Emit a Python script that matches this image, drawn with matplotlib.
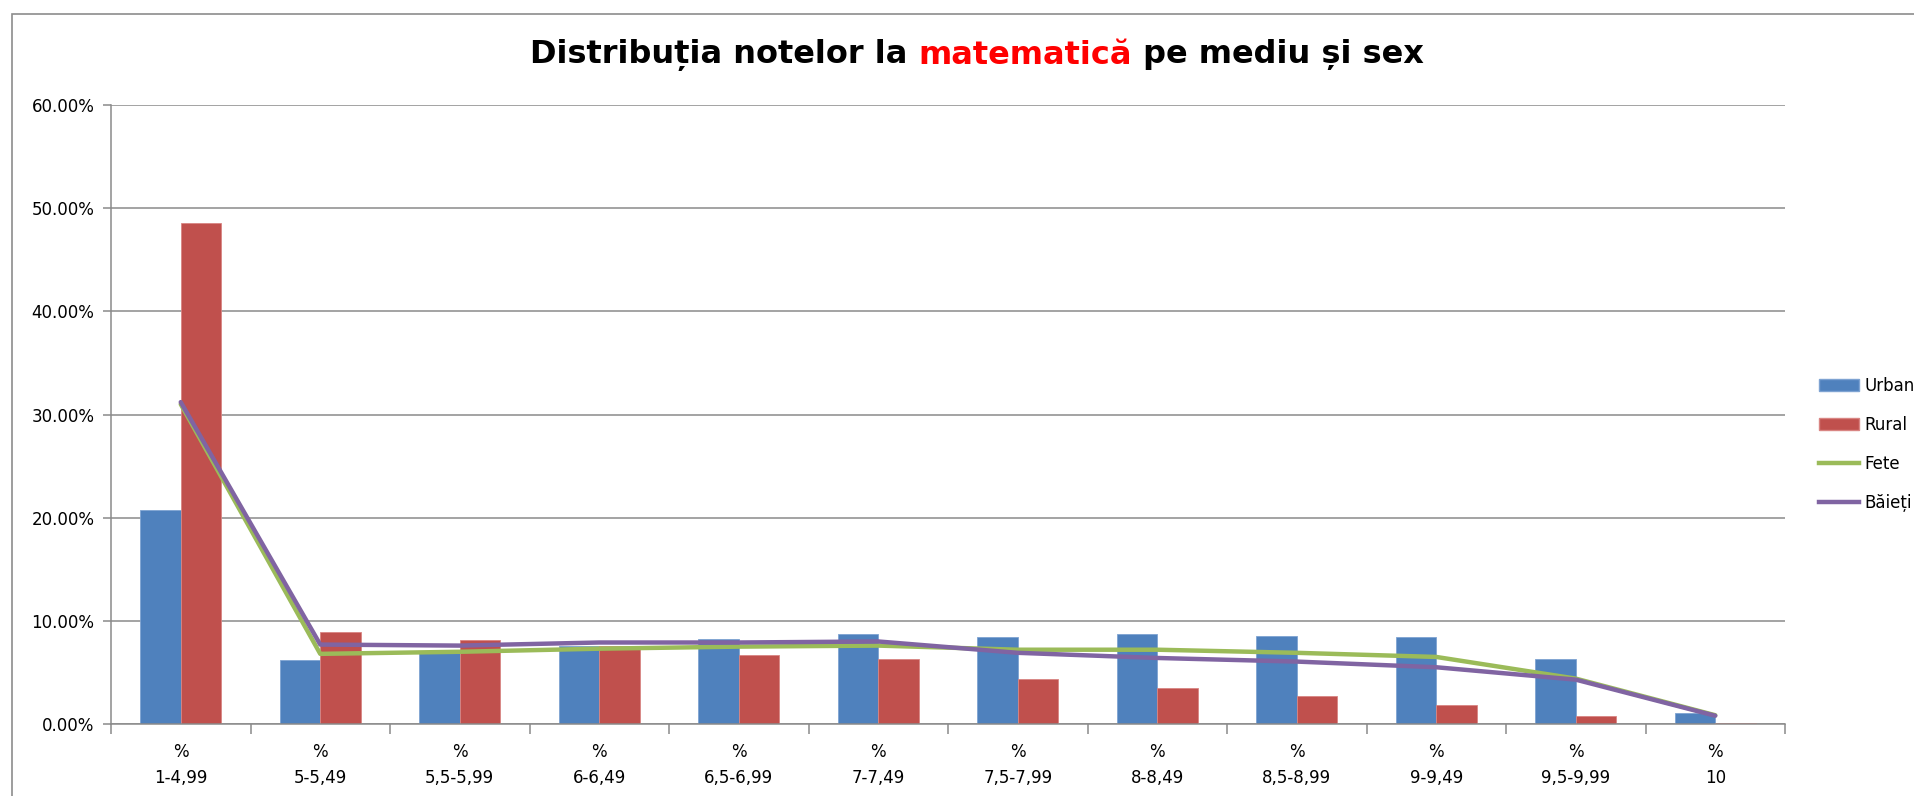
import numpy as np
import matplotlib
matplotlib.use("Agg")
import matplotlib.pyplot as plt
from matplotlib.patches import Rectangle, Patch
from matplotlib.lines import Line2D
from matplotlib.ticker import FuncFormatter, FixedLocator

categories = ["1-4,99", "5-5,49", "5,5-5,99", "6-6,49", "6,5-6,99", "7-7,49",
              "7,5-7,99", "8-8,49", "8,5-8,99", "9-9,49", "9,5-9,99", "10"]
urban = [20.7, 6.2, 6.9, 7.6, 8.2, 8.7, 8.4, 8.7, 8.5, 8.45, 6.3, 1.07]
rural = [48.6, 8.9, 8.1, 7.6, 6.7, 6.3, 4.4, 3.5, 2.75, 1.8, 0.75, 0.06]
fete = [31.0, 6.8, 7.0, 7.3, 7.5, 7.6, 7.2, 7.2, 6.9, 6.5, 4.4, 0.85]
baieti = [31.2, 7.7, 7.6, 7.9, 7.9, 8.0, 6.9, 6.4, 6.05, 5.5, 4.3, 0.8]

W, H = 1914, 796
fig = plt.figure(figsize=(W / 100, H / 100), dpi=100)
fig.patch.set_facecolor("white")

# outer chart border (cut off on the right and bottom in the original)
fig.patches.append(Rectangle((12 / W, -0.2), 1.2, 1.2 - 14 / H,
                             transform=fig.transFigure, fill=False,
                             edgecolor="#8c8c8c", linewidth=1.2))

ax = fig.add_axes([111 / W, (H - 724) / H, (1785 - 111) / W, (724 - 105) / H])

x = np.arange(len(categories))
bw = 0.29
ax.bar(x - bw / 2, urban, bw, color="#4F81BD", edgecolor="#7ea3d2", linewidth=0.6, zorder=2)
ax.bar(x + bw / 2, rural, bw, color="#C0504D", edgecolor="#d98583", linewidth=0.6, zorder=2)
ax.plot(x, fete, color="#9BBB59", linewidth=3.2, zorder=3, solid_capstyle="round")
ax.plot(x, baieti, color="#8064A2", linewidth=3.2, zorder=4, solid_capstyle="round")

ax.set_xlim(-0.5, len(categories) - 0.5)
ax.set_ylim(0, 60)
ax.set_yticks(np.arange(0, 61, 10))
ax.yaxis.set_major_formatter(FuncFormatter(lambda v, p: f"{v:.2f}%"))
ax.yaxis.grid(True, color="#8a8a8a", linewidth=1.1)
ax.set_axisbelow(True)

ax.xaxis.set_major_locator(FixedLocator(np.arange(-0.5, len(categories), 1.0)))
ax.xaxis.set_minor_locator(FixedLocator(x))
ax.set_xticklabels([])
ax.set_xticklabels(["%\n" + c for c in categories], minor=True, linespacing=1.55)
ax.tick_params(axis="x", which="major", length=7, color="#8a8a8a", width=1.1, direction="out")
ax.tick_params(axis="x", which="minor", length=0, pad=14)
ax.tick_params(axis="y", length=6, color="#8a8a8a", width=1.1, pad=6)

for lab in ax.get_yticklabels() + ax.get_xticklabels(minor=True):
    lab.set_fontfamily("DejaVu Sans")
    lab.set_fontsize(12)
    lab.set_color("black")

for s in ["top", "right"]:
    ax.spines[s].set_visible(False)
for s in ["left", "bottom"]:
    ax.spines[s].set_color("#8a8a8a")
    ax.spines[s].set_linewidth(1.1)

handles = [Patch(facecolor="#4F81BD", edgecolor="#7ea3d2", label="Urban"),
           Patch(facecolor="#C0504D", edgecolor="#d98583", label="Rural"),
           Line2D([], [], color="#9BBB59", linewidth=3.2, label="Fete"),
           Line2D([], [], color="#8064A2", linewidth=3.2, label="Băieți")]
fig.legend(handles=handles, loc="upper left", bbox_to_anchor=(1819 / W, 1 - 377 / H),
           frameon=False, prop={"family": "DejaVu Sans", "size": 12}, handlelength=2.4,
           handletextpad=0.3, labelspacing=1.26, borderaxespad=0, borderpad=0)

# title with the red word
parts = [("Distribuția notelor la ", "black"), ("matematică", "#FF0000"),
         (" pe mediu și sex", "black")]
texts = [fig.text(0, 1 - 55 / H, s, color=c, fontsize=23, fontweight="bold",
                  family="DejaVu Sans", va="center", ha="left") for s, c in parts]
fig.canvas.draw()
r = fig.canvas.get_renderer()
widths = [t.get_window_extent(r).width for t in texts]
x0 = 977 - sum(widths) / 2
for t, w in zip(texts, widths):
    t.set_x(x0 / W)
    x0 += w

fig.savefig("out.png", dpi=100)
